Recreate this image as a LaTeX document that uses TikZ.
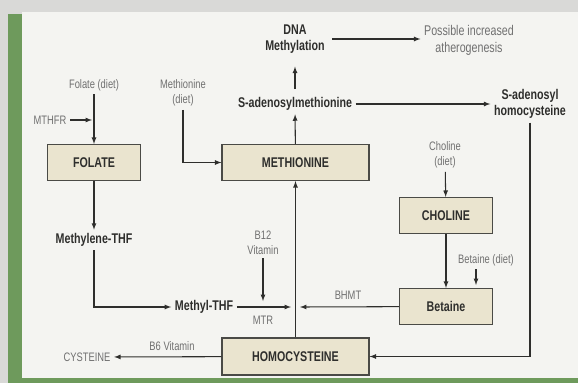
\documentclass[tikz,border=0pt]{standalone}
\usepackage{fontspec}
\setmainfont{Liberation Sans}[FakeStretch=0.76]
\usetikzlibrary{arrows}
\definecolor{bggray}{HTML}{D9D9D7}
\definecolor{panel}{HTML}{F4F4F1}
\definecolor{framegreen}{HTML}{6E9A5C}
\definecolor{boxfill}{HTML}{EAE4CF}
\definecolor{boxedge}{HTML}{4A4A46}
\definecolor{inkdark}{HTML}{2E2E2C}
\definecolor{inkgray}{HTML}{707070}

\begin{document}
\begin{tikzpicture}[x=0.03cm,y=-0.03cm,
    lbl/.style={font=\bfseries\fontsize{12}{14}\selectfont, text=inkdark, align=center, inner sep=3pt},
    note/.style={font=\fontsize{10.5}{12.5}\selectfont, text=inkgray, align=center, inner sep=3pt},
    bignote/.style={note, font=\fontsize{12}{14.5}\selectfont},
    stepbox/.style={lbl, draw=boxedge, fill=boxfill, line width=1pt, minimum height=1.08cm},
    flow/.style={draw=inkdark, line width=0.9pt, -latex}]
    \useasboundingbox (0,0) rectangle (578,383);
    \fill[bggray] (0,0) rectangle (578,383);
    \fill[panel] (22,12) rectangle (578,378);
    \fill[framegreen] (8,14) rectangle (22,383);
    \fill[framegreen] (22,378) rectangle (578,383);

    \node[lbl] (dna) at (295,39) {DNA\\Methylation};
    \node[bignote] (athero) at (469,40) {Possible increased\\atherogenesis};
    \node[lbl] (sam) at (295,104) {S-adenosylmethionine};
    \node[lbl] (sah) at (530,104) {S-adenosyl\\homocysteine};
    \node[stepbox, minimum width=4.41cm] (methionine) at (295.5,162.5) {METHIONINE};
    \node[note] (folatediet) at (94,85) {Folate (diet)};
    \node[note] (mthfr) at (50,120) {MTHFR};
    \node[note] (methdiet) at (183,93) {Methionine\\(diet)};
    \node[stepbox, minimum width=2.79cm] (folate) at (94,162.5) {FOLATE};
    \node[lbl] (methylene) at (94,240) {Methylene-THF};
    \node[lbl] (methyl) at (204,307) {Methyl-THF};
    \node[note] (btwelve) at (263,243) {B12\\Vitamin};
    \node[note] (mtr) at (263,320) {MTR};
    \node[note] (bhmt) at (348,295) {BHMT};
    \node[note] (cholinediet) at (445,155) {Choline\\(diet)};
    \node[stepbox, minimum width=2.79cm] (choline) at (446,215.5) {CHOLINE};
    \node[note] (betainediet) at (486,260) {Betaine (diet)};
    \node[stepbox, minimum width=2.79cm] (betaine) at (446,306.5) {Betaine};
    \node[stepbox, minimum width=4.41cm, minimum height=1.11cm] (homocys) at (295.5,356.5) {HOMOCYSTEINE};
    \node[note] (cysteine) at (87,357) {CYSTEINE};
    \node[note] (bsix) at (172,346) {B6 Vitamin};

    \coordinate (mthfrend) at (92,120);
    \coordinate (btwelveend) at (263,301);
    \coordinate (mtrend) at (291,307);
    \coordinate (bhmtend) at (300,307);
    \coordinate (betdietend) at (476,285);

    \draw[flow] (dna.east) ++(4,0) -- (dna.east -| athero.west);
    \draw[flow, shorten <=4pt, shorten >=8pt] (sam) -- (dna);
    \draw[flow] (sam) -- (sah);
    \draw[flow] (methionine) -- (sam);
    \draw[flow] (folatediet) -- (folate);
    \draw[flow] (mthfr) -- (mthfrend);
    \draw[flow] (methdiet) |- (methionine);
    \draw[flow] (folate) -- (methylene);
    \draw[flow] (methylene) |- (methyl);
    \draw[flow] (methyl) -- (mtrend);
    \draw[flow] (btwelve) -- (btwelveend);
    \draw[flow] (betaine) -- (bhmtend);
    \draw[flow] (homocys) -- (methionine);
    \draw[flow] (homocys) -- (cysteine);
    \draw[flow] (sah) |- (homocys);
    \draw[flow] (cholinediet) -- (choline);
    \draw[flow] (choline) -- (betaine);
    \draw[flow] (betainediet.south -| betdietend) -- (betdietend);
\end{tikzpicture}
\end{document}
